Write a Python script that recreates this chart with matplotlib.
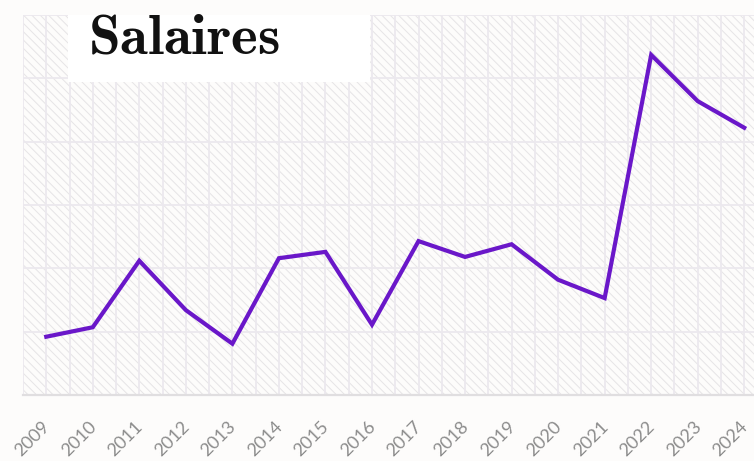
"""Salaires: yearly line chart on a hatched background."""

import matplotlib

matplotlib.use("Agg")
import matplotlib.pyplot as plt
from matplotlib.patches import Rectangle
from matplotlib.ticker import MultipleLocator
from matplotlib.transforms import ScaledTranslation

YEARS = [str(y) for y in range(2009, 2025)]
SALAIRES = [0.92, 1.07, 2.12, 1.34, 0.81, 2.16, 2.26, 1.11,
            2.43, 2.18, 2.38, 1.82, 1.53, 5.37, 4.64, 4.22]
TITLE = "Salaires"

BG = "#fdfcfb"
GRID = "#ece9ee"
LINE = "#6a17c9"
HATCH = "#e6e4e6"

plt.rcParams["mathtext.fontset"] = "cm"
plt.rcParams["hatch.color"] = HATCH
plt.rcParams["hatch.linewidth"] = 0.7

fig = plt.figure(figsize=(7.54, 4.61), dpi=100, facecolor=BG)
ax = fig.add_axes([23 / 754, 66 / 461, 744.5 / 754, 380 / 461])
ax.set_facecolor(BG)
ax.add_patch(Rectangle((0, 0), 1, 1, transform=ax.transAxes, facecolor=BG,
                       edgecolor=HATCH, hatch="\\\\\\\\", lw=0, zorder=0))

x = list(range(len(YEARS)))
ax.plot(x, SALAIRES, color=LINE, lw=3.0, solid_joinstyle="miter", zorder=3)

ax.set_xlim(-0.5, len(YEARS) - 0.5)
ax.set_ylim(0, 6)
ax.set_xticks(x)
ax.set_xticklabels(YEARS, rotation=45, ha="right", va="center_baseline",
                   rotation_mode="anchor", fontsize=13, color="#8c8c8c",
                   family="Lato")
shift = ScaledTranslation(2 / 100, 0, fig.dpi_scale_trans)
for lab in ax.get_xticklabels():
    lab.set_transform(lab.get_transform() + shift)
ax.xaxis.set_minor_locator(MultipleLocator(0.5))
ax.yaxis.set_major_locator(MultipleLocator(1))
ax.tick_params(axis="x", which="both", length=0, pad=20)
ax.tick_params(axis="y", which="both", length=0, labelleft=False)
ax.grid(which="both", axis="x", color=GRID, lw=1.3, zorder=1)
ax.grid(which="major", axis="y", color=GRID, lw=1.3, zorder=1)
ax.set_axisbelow(True)
for side in ("top", "right", "left"):
    ax.spines[side].set_visible(False)
ax.spines["bottom"].set_color("#e0dee0")
ax.spines["bottom"].set_linewidth(1.6)

# title box sits over the plot area
fig.patches.append(Rectangle((68 / 754, 1 - 82 / 461), 302 / 754, 67 / 461,
                             transform=fig.transFigure, facecolor="white",
                             edgecolor="none", zorder=5))
fig.text(88 / 754, 1 - 53 / 461, r"$\mathbf{" + TITLE + "}$", fontsize=41,
         color="#111111", va="baseline", ha="left", zorder=6)

plt.savefig("out.png", dpi=100, facecolor=BG)
plt.close()
